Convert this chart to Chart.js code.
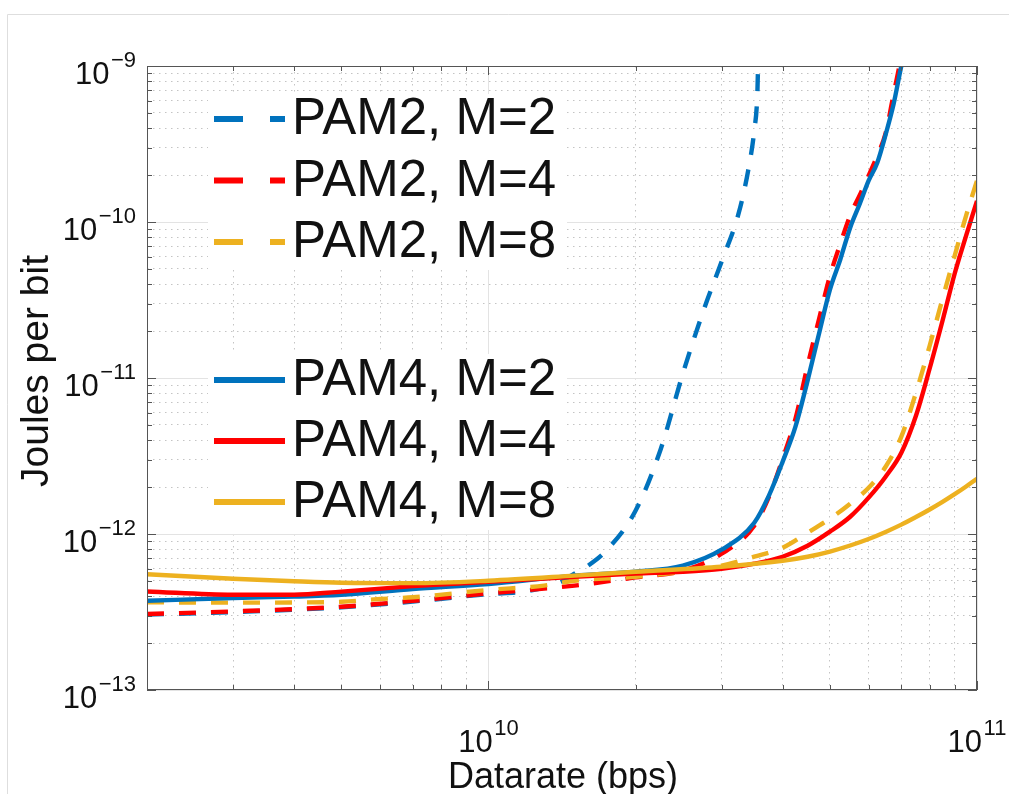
<!DOCTYPE html>
<html>
<head>
<meta charset="utf-8">
<title>Energy per bit vs datarate</title>
<script src="https://cdn.jsdelivr.net/npm/chart.js@4/dist/chart.umd.min.js"></script>
<style>
  html, body { margin: 0; padding: 0; background: #ffffff; }
  #wrap { width: 1009px; height: 794px; position: relative; }
</style>
</head>
<body>
<div id="wrap"><canvas id="c" width="1009" height="794"></canvas></div>
<script>
// ---- data: datarate in Gbps, energy in joules per bit ----
const ratePam2M2 = [2, 3, 5, 7, 10, 12, 14, 15, 16, 17.5, 20, 22.5, 25, 27.5, 30, 32.5, 34, 35, 35.5, 35.6];
const jpbPam2M2  = [3.04e-13, 3.16e-13, 3.39e-13, 3.69e-13, 4.12e-13, 4.3e-13, 4.9e-13, 5.57e-13, 6.27e-13, 7.94e-13,
                    1.41e-12, 3.47e-12, 1.07e-11, 2.66e-11, 5.57e-11, 1.13e-10, 2.13e-10, 3.85e-10, 6.45e-10, 8.9e-10];

const ratePam2M4 = [2, 3, 5, 7, 10, 15, 20, 25, 30, 35, 37.5, 40, 42.5, 45, 47.5, 50, 52.5, 55, 57.5, 60, 62.5, 65, 67.5, 70];
const jpbPam2M4  = [3.07e-13, 3.19e-13, 3.42e-13, 3.73e-13, 4.16e-13, 4.67e-13, 5.27e-13, 5.82e-13, 7.47e-13, 1.13e-12,
                    1.73e-12, 3.03e-12, 5.48e-12, 1.2e-11, 2.39e-11, 4.51e-11, 7.24e-11, 1.1e-10, 1.48e-10, 1.98e-10,
                    2.66e-10, 3.7e-10, 6.6e-10, 1.15e-9];

const ratePam2M8 = [2, 3, 4, 5, 6, 7, 10, 13, 15, 20, 25, 30, 35, 40, 45, 50, 55, 60, 65, 70, 75, 80, 85, 90, 95, 100];
const jpbPam2M8  = [3.65e-13, 3.63e-13, 3.64e-13, 3.68e-13, 3.83e-13, 3.93e-13, 4.38e-13, 4.67e-13, 5.02e-13, 5.32e-13,
                    5.73e-13, 6.27e-13, 7.15e-13, 8.17e-13, 1.019e-12, 1.253e-12, 1.563e-12, 1.98e-12, 2.70e-12, 4.21e-12,
                    8.05e-12, 1.61e-11, 3.22e-11, 6.07e-11, 1.10e-10, 1.84e-10];

const ratePam4M2 = [2, 3, 4, 5, 7, 10, 15, 20, 25, 30, 35, 37.5, 40, 42.5, 45, 47.5, 50, 52.5, 55, 57.5, 60, 62.5, 65, 67.5, 70, 71];
const jpbPam4M2  = [3.73e-13, 3.89e-13, 3.97e-13, 4.08e-13, 4.44e-13, 4.78e-13, 5.41e-13, 5.73e-13, 6.27e-13, 7.93e-13,
                    1.18e-12, 1.76e-12, 2.9e-12, 4.88e-12, 9.62e-12, 1.93e-11, 3.69e-11, 5.75e-11, 9.2e-11, 1.3e-10,
                    1.84e-10, 2.4e-10, 3.63e-10, 5.7e-10, 1.0e-9, 1.2e-9];

const ratePam4M4 = [2, 3, 4, 5, 7, 10, 15, 20, 25, 30, 35, 40, 45, 50, 55, 60, 65, 70, 75, 80, 85, 90, 95, 100];
const jpbPam4M4  = [4.28e-13, 4.08e-13, 4.08e-13, 4.27e-13, 4.63e-13, 4.94e-13, 5.32e-13, 5.57e-13, 5.73e-13, 5.99e-13,
                    6.45e-13, 7.15e-13, 8.41e-13, 1.035e-12, 1.29e-12, 1.71e-12, 2.33e-12, 3.32e-12, 5.73e-12, 1.15e-11,
                    2.33e-11, 4.66e-11, 8.17e-11, 1.365e-10];

const ratePam4M8 = [2, 3, 4, 5, 7, 10, 15, 20, 30, 40, 45, 50, 55, 60, 65, 70, 75, 80, 85, 90, 95, 100];
const jpbPam4M8  = [5.52e-13, 5.17e-13, 4.98e-13, 4.87e-13, 4.84e-13, 5.02e-13, 5.41e-13, 5.73e-13, 6.17e-13, 6.74e-13,
                    7.15e-13, 7.72e-13, 8.44e-13, 9.29e-13, 1.031e-12, 1.148e-12, 1.285e-12, 1.436e-12, 1.607e-12, 1.80e-12,
                    2.016e-12, 2.262e-12];

const seriesLabels = ['PAM2, M=2', 'PAM2, M=4', 'PAM2, M=8', 'PAM4, M=2', 'PAM4, M=4', 'PAM4, M=8'];

// axis ranges and decade tick labels (shown as powers of ten)
const xRange = [2e9, 1e11];
const yRange = [1e-13, 1e-9];
const xTickExponents = [10, 11];
const yTickExponents = [-13, -12, -11, -10, -9];
const minorMultiples = [2, 3, 4, 5, 6, 7, 8, 9];

const xTitle = 'Datarate (bps)';
const yTitle = 'Joules per bit';

// ---- styling ----
const BLUE = '#0072BD', RED = '#FF0000', GOLD = '#EDB120';
const FONT = '"Liberation Sans", Arial, Helvetica, sans-serif';
const DASH = [17, 15];

function toPoints(ratesGbps, vals) {
  return ratesGbps.map((r, i) => ({ x: r * 1e9, y: vals[i] }));
}

function isDecade(v) {
  const l = Math.log10(v);
  return Math.abs(l - Math.round(l)) < 1e-6;
}

function logTickValues(min, max) {
  const out = [];
  const e0 = Math.floor(Math.log10(min)), e1 = Math.ceil(Math.log10(max));
  for (let e = e0; e <= e1; e++) {
    [1].concat(minorMultiples).forEach(m => {
      const v = m * Math.pow(10, e);
      if (v >= min * 0.9999 && v <= max * 1.0001) out.push(v);
    });
  }
  return out;
}

const seriesStyle = [
  { color: BLUE, dash: DASH }, { color: RED, dash: DASH }, { color: GOLD, dash: DASH },
  { color: BLUE, dash: [] },   { color: RED, dash: [] },   { color: GOLD, dash: [] }
];
const seriesData = [
  toPoints(ratePam2M2, jpbPam2M2), toPoints(ratePam2M4, jpbPam2M4), toPoints(ratePam2M8, jpbPam2M8),
  toPoints(ratePam4M2, jpbPam4M2), toPoints(ratePam4M4, jpbPam4M4), toPoints(ratePam4M8, jpbPam4M8)
];

const datasets = seriesData.map((d, i) => ({
  label: seriesLabels[i],
  data: d,
  borderColor: seriesStyle[i].color,
  borderDash: seriesStyle[i].dash,
  borderWidth: 4.4,
  pointRadius: 0,
  fill: false,
  cubicInterpolationMode: 'monotone',
  clip: 0,
  order: seriesData.length - 1 - i   // later series are painted on top
}));

const gridColor = ctx => (ctx.tick && isDecade(ctx.tick.value)) ? '#e3e3e3' : '#c4c4c4';
const gridDash = ctx => (ctx.tick && !isDecade(ctx.tick.value)) ? [1.5, 4.5] : [];

// outer light frame of the figure
const figureFrame = {
  id: 'figureFrame',
  beforeDraw(chart) {
    const ctx = chart.ctx;
    ctx.save();
    ctx.fillStyle = '#ffffff';
    ctx.fillRect(0, 0, chart.width, chart.height);
    ctx.strokeStyle = '#dedede';
    ctx.lineWidth = 1;
    ctx.beginPath();
    ctx.moveTo(7.5, chart.height);
    ctx.lineTo(7.5, 14.5);
    ctx.lineTo(chart.width, 14.5);
    ctx.stroke();
    ctx.restore();
  }
};

// "10" followed by a raised exponent, MATLAB style
function drawPower(ctx, x, baseY, exp, align) {
  const expStr = String(exp).replace('-', '\u2212');
  ctx.font = '31px ' + FONT;
  const wBase = ctx.measureText('10').width;
  ctx.font = '22px ' + FONT;
  const wExp = ctx.measureText(expStr).width;
  const gap = 1.5;
  const total = wBase + gap + wExp;
  const x0 = align === 'right' ? x - total : x - total / 2;
  ctx.textAlign = 'left';
  ctx.textBaseline = 'alphabetic';
  ctx.fillStyle = '#111111';
  ctx.font = '31px ' + FONT;
  ctx.fillText('10', x0, baseY);
  ctx.font = '22px ' + FONT;
  ctx.fillText(expStr, x0 + wBase + gap, baseY - 17);
}

// box, inward tick marks, tick labels and axis titles
const axesDecor = {
  id: 'axesDecor',
  afterDatasetsDraw(chart) {
    const { ctx, chartArea: a } = chart;
    const xs = chart.scales.x, ys = chart.scales.y;
    ctx.save();
    ctx.strokeStyle = '#555555';
    ctx.lineWidth = 1;
    ctx.setLineDash([]);
    ctx.beginPath();
    xs.ticks.forEach(t => {
      const px = Math.round(xs.getPixelForValue(t.value)) + 0.5;
      const L = isDecade(t.value) ? 9 : 5;
      ctx.moveTo(px, a.bottom); ctx.lineTo(px, a.bottom - L);
      ctx.moveTo(px, a.top);    ctx.lineTo(px, a.top + L);
    });
    ys.ticks.forEach(t => {
      const py = Math.round(ys.getPixelForValue(t.value)) + 0.5;
      const L = isDecade(t.value) ? 9 : 5;
      ctx.moveTo(a.left, py);  ctx.lineTo(a.left + L, py);
      ctx.moveTo(a.right, py); ctx.lineTo(a.right - L, py);
    });
    ctx.stroke();
    ctx.strokeRect(a.left + 0.5, a.top + 0.5, a.right - a.left - 1, a.bottom - a.top - 1);

    yTickExponents.forEach(e => {
      const py = ys.getPixelForValue(Math.pow(10, e));
      drawPower(ctx, a.left - 11, py + 18, e, 'right');
    });
    xTickExponents.forEach(e => {
      const px = xs.getPixelForValue(Math.pow(10, e));
      drawPower(ctx, px, a.bottom + 62, e, 'center');
    });

    ctx.fillStyle = '#111111';
    ctx.font = '36px ' + FONT;
    ctx.textAlign = 'center';
    ctx.textBaseline = 'alphabetic';
    ctx.fillText(xTitle, (a.left + a.right) / 2 + 1, 788);

    ctx.save();
    ctx.translate(48, 371);
    ctx.rotate(-Math.PI / 2);
    ctx.font = '39px ' + FONT;
    ctx.fillText(yTitle, 0, 0);
    ctx.restore();
    ctx.restore();
  }
};

// two legend blocks: PAM2 group and PAM4 group
const legendGroups = {
  id: 'legendGroups',
  afterDraw(chart) {
    const ctx = chart.ctx;
    const groups = [
      { box: [208, 94, 359, 176], rows: [119, 180.5, 242], idx: [0, 1, 2] },
      { box: [208, 354, 359, 176], rows: [380, 441, 502], idx: [3, 4, 5] }
    ];
    ctx.save();
    groups.forEach(g => {
      ctx.fillStyle = '#ffffff';
      ctx.fillRect(g.box[0], g.box[1], g.box[2], g.box[3]);
      g.idx.forEach((di, k) => {
        const y = g.rows[k];
        const ds = chart.data.datasets[di];
        ctx.strokeStyle = ds.borderColor;
        ctx.lineWidth = 6;
        ctx.lineCap = 'butt';
        ctx.setLineDash(ds.borderDash.length ? [29, 27] : []);
        ctx.beginPath();
        ctx.moveTo(214, y);
        ctx.lineTo(285, y);
        ctx.stroke();
        ctx.setLineDash([]);
        ctx.fillStyle = '#111111';
        ctx.font = '51px ' + FONT;
        ctx.textAlign = 'left';
        ctx.textBaseline = 'alphabetic';
        ctx.fillText(ds.label, 292, y + 15);
      });
    });
    ctx.restore();
  }
};

function axisOptions(range) {
  return {
    type: 'logarithmic',
    min: range[0],
    max: range[1],
    afterBuildTicks: s => { s.ticks = logTickValues(range[0], range[1]).map(v => ({ value: v })); },
    ticks: { display: false, autoSkip: false },
    grid: { drawTicks: false, color: gridColor, lineWidth: 1 },
    border: { display: false, dash: gridDash }
  };
}

new Chart(document.getElementById('c'), {
  type: 'line',
  data: { datasets },
  options: {
    responsive: false,
    animation: false,
    layout: { padding: { left: 147, right: 32, top: 66, bottom: 104 } },
    scales: { x: axisOptions(xRange), y: axisOptions(yRange) },
    plugins: { legend: { display: false }, tooltip: { enabled: false }, title: { display: false } }
  },
  plugins: [figureFrame, axesDecor, legendGroups]
});
</script>
</body>
</html>
